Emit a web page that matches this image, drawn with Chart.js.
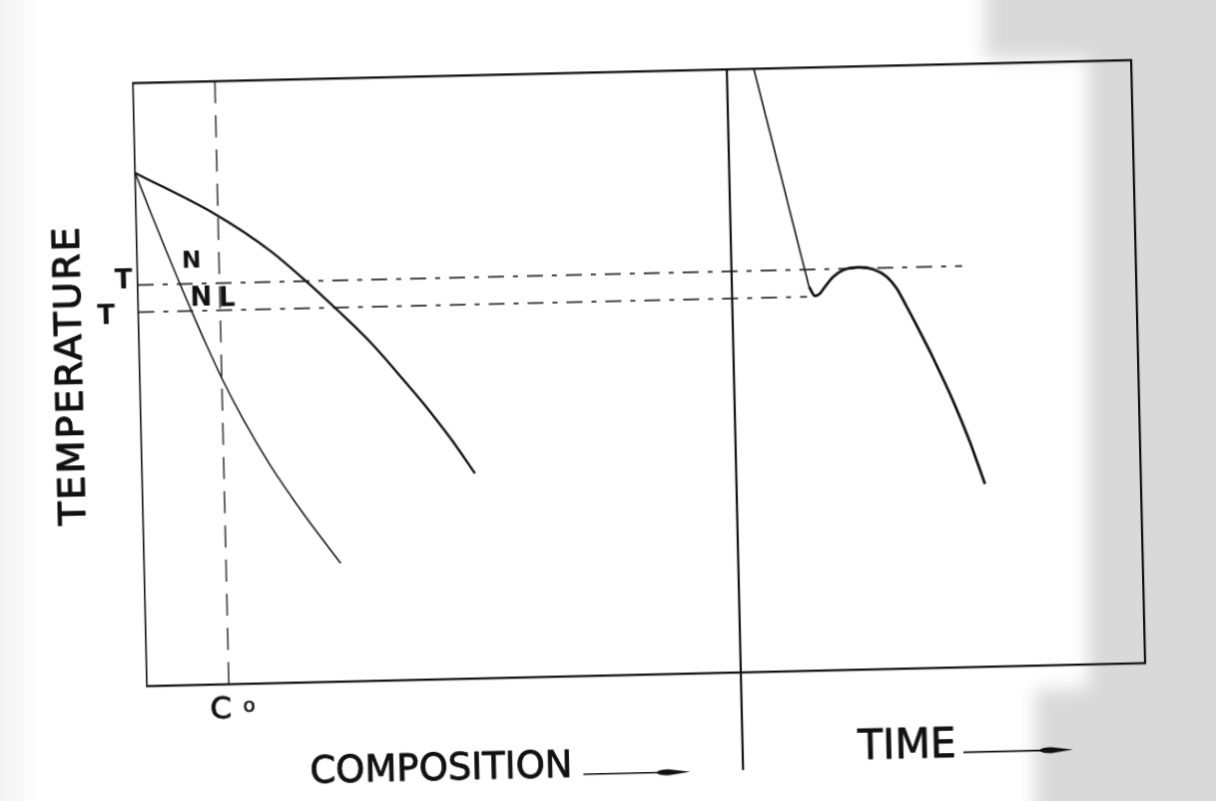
<!DOCTYPE html>
<html>
<head>
<meta charset="utf-8">
<script src="https://cdn.jsdelivr.net/npm/chart.js@4.4.1/dist/chart.umd.min.js"></script>
<style>
  html, body { margin: 0; padding: 0; width: 1216px; height: 801px; overflow: hidden; background: #ffffff; }
  /* greyish paper tone around the right margin, with soft edges */
  #toneWrap { position: absolute; left: 0; top: -40px; width: 1300px; height: 900px; filter: blur(9px); }
  #tone {
    position: absolute; left: 0; top: 0; width: 1300px; height: 900px;
    background: #d9d9d9;
    clip-path: polygon(985px 0, 1300px 0, 1300px 900px, 1035px 900px, 1035px 730px,
                       1088px 728px, 1088px 98px, 985px 98px);
  }
  #toneLeft { position: absolute; left: 0; top: 0; width: 40px; height: 801px;
              background: linear-gradient(to right, #f3f3f3 0, rgba(255,255,255,0) 100%); }
  /* the printed sheet sits slightly skewed on the page */
  #sheet {
    position: absolute; left: 0; top: 0;
    width: 1216px; height: 801px;
    transform-origin: 0 0;
    transform: matrix(0.998, -0.023, 0.0233, 1.005, -8.4, 13.86);
  }
</style>
</head>
<body>
<div id="toneLeft"></div>
<div id="toneWrap"><div id="tone"></div></div>
<canvas id="sheet" width="1216" height="801"></canvas>
<script>
// Equilibrium phase diagram (left panel): temperature vs composition
const liquidusX = [0, 8.07, 13.33, 16.93, 19.87, 23.13, 25.74, 28.33, 30.93, 33.34];
const liquidusT = [85.1, 77.8, 71.7, 66.4, 61.7, 56.2, 51.1, 45.8, 40.0, 34.0];
const solidusX  = [0, 1.41, 2.66, 3.93, 5.35, 6.77, 8.19, 10.26, 12.83, 16.05, 19.68];
const solidusT  = [85.1, 78.75, 73.25, 67.8, 61.9, 56.2, 50.8, 43.8, 36.2, 28.0, 19.6];

// Alloy composition C0 and the two characteristic temperatures
const alloyC0 = 8.2;
const tUpper = 66.5;
const tLower = 62.0;

// Cooling curve (right panel): liquid cooling, undercooling, recalescence, solidification
const coolLiquidX = [62.2, 67.23];
const coolLiquidT = [100, 63.65];
const coolSolidX  = [67.23, 67.81, 68.31, 68.83, 69.68, 70.70, 72.21, 73.71, 75.03, 76.0, 76.96, 78.07, 79.51, 81.41, 82.98, 84.39];
const coolSolidT  = [63.65, 62.1, 62.5, 63.6, 65.2, 66.3, 66.7, 66.3, 65.0, 63.05, 60.0, 56.3, 51.3, 44.1, 37.3, 30.3];

// Panel split and reference-line extents (in composition/time units)
const panelSplit = 59.5;
const splitBottom = -16.2;
const upperLineEnd = 82.6;
const lowerLineEnd = 67.0;

const pts = (xs, ys) => xs.map((x, i) => ({ x, y: ys[i] }));
const ink = '#111111';
const dashDot = [16, 9, 5, 9];

const line = (data, width, extra) => Object.assign({
  data, borderColor: ink, borderWidth: width, pointRadius: 0,
  fill: false, showLine: true
}, extra || {});

// Labels placed in data space
const notes = [
  { text: 'T', x: -1.41, y: 67.2, font: 'bold 26px "DejaVu Sans"' },
  { text: 'T', x: -3.25, y: 61.3, font: 'bold 26px "DejaVu Sans"' },
  { text: 'N', x: 5.44, y: 70.1, font: 'bold 23px "DejaVu Sans"' },
  { text: 'N', x: 6.31, y: 63.9, font: 'bold 26px "DejaVu Sans"' },
  { text: 'L', x: 8.91, y: 63.8, font: 'bold 26px "DejaVu Sans"' },
  { text: 'C', x: 7.36, y: -4.4, font: '31px "DejaVu Sans"', stroke: 0.8 },
  { text: 'o', x: 10.18, y: -3.84, font: '20px "DejaVu Sans"', stroke: 0.6 },
  { text: 'COMPOSITION', x: 29.27, y: -15.1, font: '37px "DejaVu Sans"', stroke: 0.8 },
  { text: 'TIME', x: 75.97, y: -13.0, font: '41px "DejaVu Sans"', stroke: 0.8 }
];
const arrows = [
  { x0: 43.5, x1: 54.2, y: -16.3 },
  { x0: 81.6, x1: 92.6, y: -14.1 }
];

const annotate = {
  id: 'annotate',
  afterDraw(chart) {
    const { ctx, scales } = chart;
    const X = v => scales.x.getPixelForValue(v);
    const Y = v => scales.y.getPixelForValue(v);
    ctx.save();
    ctx.fillStyle = ink;
    ctx.strokeStyle = ink;
    ctx.textAlign = 'center';
    ctx.textBaseline = 'middle';
    ctx.lineJoin = 'round';
    notes.forEach(n => {
      ctx.font = n.font;
      ctx.fillText(n.text, X(n.x), Y(n.y));
      if (n.stroke) {
        ctx.lineWidth = n.stroke;
        ctx.strokeText(n.text, X(n.x), Y(n.y));
      }
    });
    // vertical axis title
    ctx.save();
    ctx.translate(X(-6.8), Y(51.8));
    ctx.rotate(-Math.PI / 2);
    ctx.font = '38px "DejaVu Sans"';
    ctx.letterSpacing = '2px';
    ctx.lineWidth = 1.1;
    ctx.fillText('TEMPERATURE', 0, 0);
    ctx.strokeText('TEMPERATURE', 0, 0);
    ctx.restore();
    // direction arrows
    arrows.forEach(a => {
      const x0 = X(a.x0), x1 = X(a.x1), y = Y(a.y);
      const hs = x1 - 34;
      ctx.lineWidth = 1.6;
      ctx.beginPath();
      ctx.moveTo(x0, y);
      ctx.lineTo(hs + 4, y);
      ctx.stroke();
      ctx.beginPath();
      ctx.moveTo(hs, y);
      ctx.quadraticCurveTo(hs + 2, y - 3, hs + 12, y - 3);
      ctx.lineTo(x1, y);
      ctx.lineTo(hs + 12, y + 3);
      ctx.quadraticCurveTo(hs + 2, y + 3, hs, y);
      ctx.fill();
    });
    ctx.restore();
  }
};

const frameScale = (position, axis) => ({
  type: 'linear', position, axis,
  min: 0, max: 100,
  ticks: { display: false },
  grid: { display: false, drawTicks: false },
  border: { display: true, color: ink, width: position === 'left' ? 1.6 : 2.2 },
  afterFit(scale) {
    if (axis === 'x') scale.height = 0; else scale.width = 0;
  }
});

new Chart(document.getElementById('sheet'), {
  type: 'scatter',
  data: {
    datasets: [
      line(pts(liquidusX, liquidusT), 2.3, { cubicInterpolationMode: 'monotone' }),
      line(pts(solidusX, solidusT), 1.5, { cubicInterpolationMode: 'monotone' }),
      line(pts([alloyC0, alloyC0], [100, 0]), 1.3, { borderDash: [22, 12] }),
      line(pts([0, upperLineEnd], [tUpper, tUpper]), 1.3, { borderDash: dashDot }),
      line(pts([0, lowerLineEnd], [tLower, tLower]), 1.3, { borderDash: dashDot }),
      line(pts([panelSplit, panelSplit], [100, splitBottom]), 2.2, { clip: false }),
      line(pts(coolLiquidX, coolLiquidT), 1.6),
      line(pts(coolSolidX, coolSolidT), 2.7, { cubicInterpolationMode: 'monotone' })
    ]
  },
  options: {
    responsive: false,
    animation: false,
    layout: { padding: { left: 140, top: 72, right: 76, bottom: 129 } },
    plugins: { legend: { display: false }, tooltip: { enabled: false } },
    scales: {
      x: frameScale('bottom', 'x'),
      y: frameScale('left', 'y'),
      x2: frameScale('top', 'x'),
      y2: frameScale('right', 'y')
    }
  },
  plugins: [annotate]
});
</script>
</body>
</html>
